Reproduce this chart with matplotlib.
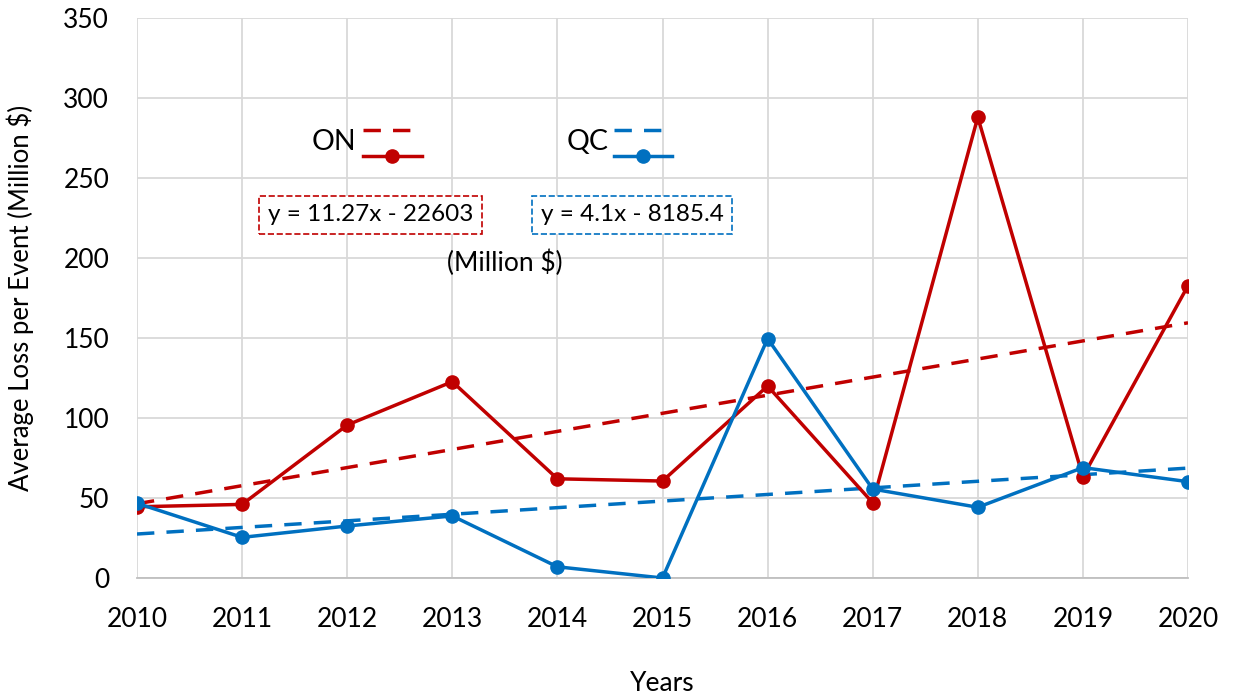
import numpy as np
import matplotlib.pyplot as plt
from matplotlib.lines import Line2D

plt.rcParams['font.family'] = ['Lato', 'DejaVu Sans']

# Дані
years = [2010, 2011, 2012, 2013, 2014, 2015, 2016, 2017, 2018, 2019, 2020]
on_loss = [44.5, 46, 95.6, 122.7, 62, 60.6, 120, 47, 288, 63.3, 182.7]
qc_loss = [46.7, 25.4, 32.5, 38.8, 7, 0, 149.6, 55.6, 44.2, 69, 60.2]
on_eq = "y = 11.27x - 22603"
qc_eq = "y = 4.1x - 8185.4"

red = '#C00000'
blue = '#0070C0'

fig = plt.figure(figsize=(12.33, 6.98), dpi=100)
ax = fig.add_axes([137/1233, 1 - 578/698, 1051/1233, 560/698])

x = np.array(years)
# Лінії тренду
for vals, col in [(on_loss, red), (qc_loss, blue)]:
    k, b = np.polyfit(x, vals, 1)
    ax.plot(x, k * x + b, color=col, lw=2.5, ls=(0, (5, 3.5)), zorder=3)

ax.plot(x, on_loss, color=red, lw=2.5, marker='o', ms=9.5, zorder=4)
ax.plot(x, qc_loss, color=blue, lw=2.5, marker='o', ms=9.5, zorder=5)

ax.set_xlim(2010, 2020)
ax.set_ylim(0, 350)
ax.set_xticks(years)
ax.set_yticks(range(0, 351, 50))
ax.grid(True, color='#d9d9d9', lw=1.3, zorder=0)
for s in ['top', 'right', 'left']:
    ax.spines[s].set_visible(False)
ax.spines['bottom'].set_color('#bfbfbf')
ax.spines['bottom'].set_linewidth(1.3)
ax.tick_params(length=0, labelsize=19)
ax.tick_params(axis='y', pad=20)
ax.tick_params(axis='x', pad=21)
ax.set_xlabel('Years', fontsize=19, labelpad=28)
ax.set_ylabel('Average Loss per Event (Million $)', fontsize=18.5, labelpad=21)

# Легенда вручну
for col, lab, x0, x1, xt in [(red, 'ON', 0.215, 0.271, 0.209),
                             (blue, 'QC', 0.454, 0.509, 0.449)]:
    ax.add_line(Line2D([x0, x1], [0.80, 0.80], transform=ax.transAxes,
                       color=col, lw=2.5, ls=(0, (5, 3.5)), zorder=6))
    ax.add_line(Line2D([x0, x1], [0.754, 0.754], transform=ax.transAxes,
                       color=col, lw=2.5, zorder=6))
    ax.add_line(Line2D([(x0 + x1) / 2], [0.754], transform=ax.transAxes,
                       color=col, marker='o', ms=9.5, zorder=6))
    ax.text(xt, 0.778, lab, transform=ax.transAxes, ha='right', va='center',
            fontsize=20.5)

ax.text(0.222, 0.649, on_eq, transform=ax.transAxes, ha='center', va='center',
        fontsize=17.5, zorder=7,
        bbox=dict(boxstyle='square,pad=0.35', fc='white', ec=red, ls='--', lw=1.2))
ax.text(0.471, 0.649, qc_eq, transform=ax.transAxes, ha='center', va='center',
        fontsize=17.5, zorder=7,
        bbox=dict(boxstyle='square,pad=0.35', fc='white', ec=blue, ls='--', lw=1.2))
ax.text(0.350, 0.563, '(Million $)', transform=ax.transAxes, ha='center',
        va='center', fontsize=19)

fig.savefig('out.png', dpi=100)
